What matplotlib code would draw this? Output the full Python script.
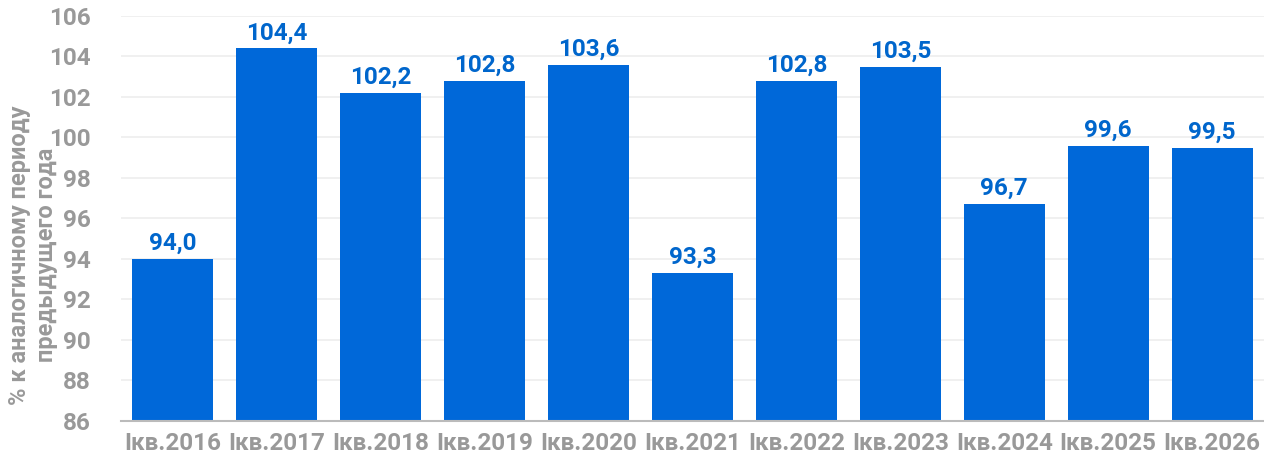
import matplotlib

matplotlib.use("Agg")
import matplotlib.pyplot as plt

plt.rcParams["font.family"] = ["Roboto", "DejaVu Sans"]

categories = ["Iкв.2016", "Iкв.2017", "Iкв.2018", "Iкв.2019", "Iкв.2020", "Iкв.2021",
              "Iкв.2022", "Iкв.2023", "Iкв.2024", "Iкв.2025", "Iкв.2026"]
values = [94.0, 104.4, 102.2, 102.8, 103.6, 93.3, 102.8, 103.5, 96.7, 99.6, 99.5]
yticks = [86, 88, 90, 92, 94, 96, 98, 100, 102, 104, 106]

BAR = "#0068D9"
LABEL = "#0066CC"
GRAY = "#999999"

fig = plt.figure(figsize=(12.64, 4.61), dpi=100, facecolor="white")
ax = fig.add_axes([0.0957, 0.0868, 0.9043, 0.8785])

x = range(len(categories))
ax.bar(x, values, width=0.78, color=BAR, zorder=2)
ax.set_xlim(-0.5, len(categories) - 0.5)
ax.set_ylim(86, 106)
ax.set_yticks(yticks)
ax.set_xticks(list(x))
ax.set_xticklabels(categories)

for xi, v in zip(x, values):
    ax.text(xi, v + 0.2, f"{v:.1f}".replace(".", ","), ha="center", va="bottom",
            color=LABEL, fontsize=17.5, fontweight="bold")

ax.grid(axis="y", color="#EEEEEE", linewidth=1.2, zorder=0)
for s in ["top", "right", "left"]:
    ax.spines[s].set_visible(False)
ax.spines["bottom"].set_color("#BBBBBB")
ax.spines["bottom"].set_linewidth(1.5)
ax.tick_params(axis="both", length=0, colors=GRAY, labelsize=17.5)
ax.tick_params(axis="y", pad=22)
ax.tick_params(axis="x", pad=8)
for lbl in ax.get_xticklabels() + ax.get_yticklabels():
    lbl.set_fontweight("bold")

ax.set_ylabel("% к аналогичному периоду\nпредыдущего года", color=GRAY,
              fontsize=17, fontweight="bold", linespacing=1.2,
              va="center", ha="center")
ax.yaxis.set_label_coords(-0.077, 0.41)

fig.savefig("out.png", dpi=100, facecolor="white")
